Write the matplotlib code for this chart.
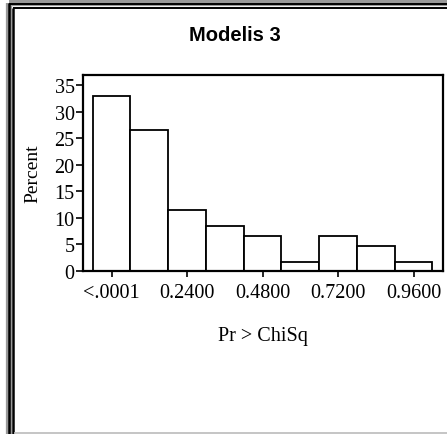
import matplotlib
matplotlib.use('Agg')
import matplotlib.pyplot as plt
from matplotlib.lines import Line2D

# histogram of p-values, bins of width 0.12 centred on the midpoints
midpoints = [0.0, 0.12, 0.24, 0.36, 0.48, 0.60, 0.72, 0.84, 0.96]
percent = [33.0, 26.5, 11.4, 8.5, 6.5, 1.6, 6.5, 4.6, 1.6]
tick_pos = [0.0, 0.24, 0.48, 0.72, 0.96]
tick_labels = ['<.0001', '0.2400', '0.4800', '0.7200', '0.9600']
y_ticks = [0, 5, 10, 15, 20, 25, 30, 35]
bin_width = 0.12

W, H = 447, 435
fig = plt.figure(figsize=(W / 100, H / 100), dpi=100)
fig.patch.set_facecolor('white')

ax = fig.add_axes([83 / W, 1 - 271.7 / H, (442.5 - 83) / W, (271.7 - 75.7) / H])
ax.bar(midpoints, percent, width=bin_width, color='white', edgecolor='black', linewidth=1.3)
ax.set_xlim(-0.091, 1.052)
ax.set_ylim(0, 37.0)

ax.set_xticks(tick_pos)
ax.set_xticklabels(tick_labels)
ax.set_yticks(y_ticks)
for lab in ax.get_xticklabels() + ax.get_yticklabels():
    lab.set_fontfamily('Liberation Serif')
    lab.set_fontsize(14.5)
ax.tick_params(axis='x', direction='out', length=4, width=1.2, pad=5)
ax.tick_params(axis='y', direction='out', length=5, width=1.2, pad=1)
for s in ax.spines.values():
    s.set_linewidth(1.6)

fig.text(235 / W, 1 - 36 / H, 'Modelis 3', ha='center', va='center',
         fontfamily='Liberation Sans', fontweight='bold', fontsize=14.5)
fig.text(33 / W, 1 - 174 / H, 'Percent', ha='center', va='center', rotation=90,
         fontfamily='Liberation Serif', fontsize=14)
fig.text(263 / W, 1 - 337 / H, 'Pr > ChiSq', ha='center', va='center',
         fontfamily='Liberation Serif', fontsize=14.5)

# double frame around the output (left and top), grey line at the bottom
def px_line(x0, y0, x1, y1, color, lw):
    fig.add_artist(Line2D([x0 / W, x1 / W], [1 - y0 / H, 1 - y1 / H],
                          transform=fig.transFigure, color=color, linewidth=lw,
                          solid_capstyle='butt'))

px_line(9.3, 4, 9.3, H, '#999999', 4.5)
px_line(9.3, 4, W, 4, '#999999', 4.5)
px_line(9, 4.8, W, 4.8, 'black', 1.4)
px_line(8.8, 4.2, 8.8, H, 'black', 1.8)
px_line(13, 9, W, 9, 'black', 1.4)
px_line(13, 8.5, 13, H, 'black', 1.8)
px_line(14, 433.5, W, 433.5, '#bbbbbb', 1.2)

fig.savefig('out.png', dpi=100)
